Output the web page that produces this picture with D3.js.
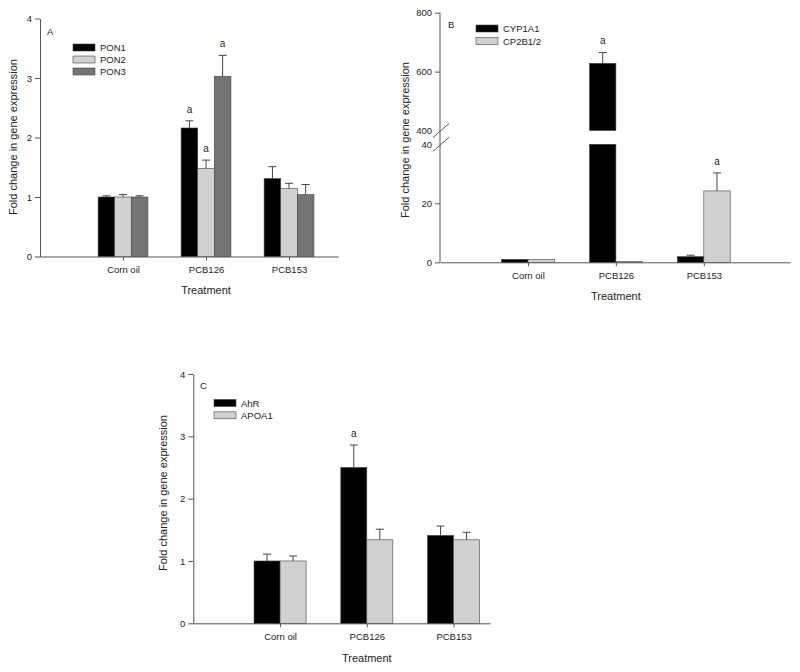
<!DOCTYPE html>
<html><head><meta charset="utf-8">
<script src="https://cdn.jsdelivr.net/npm/d3@7"></script>
<style>
body{margin:0;background:#fff;}
svg{display:block;font-family:"Liberation Sans",Arial,sans-serif;}
.axis path,.axis line{stroke:#555;stroke-width:1;}
.axis text{font-size:9.5px;fill:#222;font-family:"Liberation Sans",Arial,sans-serif;}
</style>
</head><body>
<svg id="chart" width="800" height="672"></svg>
<script>
const categories = ["Corn oil","PCB126","PCB153"];
const tickLabelsA = [0,1,2,3,4];
const tickLabelsC = [0,1,2,3,4];
const tickLowB = [0,20,40];
const tickHighB = [400,600,800];

// Panel A
const seriesA = ["PON1","PON2","PON3"];
const pon1 = [1.00, 2.16, 1.31];
const pon1Err = [1.02, 2.28, 1.51];
const pon2 = [1.00, 1.48, 1.14];
const pon2Err = [1.04, 1.62, 1.23];
const pon3 = [1.00, 3.03, 1.04];
const pon3Err = [1.02, 3.38, 1.21];
const sigA = [[false,true,false],[false,true,false],[false,true,false]];

// Panel B
const seriesB = ["CYP1A1","CP2B1/2"];
const cyp1a1 = [1.0, 628, 1.9];
const cyp1a1Err = [1.2, 665, 2.4];
const cp2b1 = [1.0, 0.3, 24.2];
const cp2b1Err = [1.2, 0.3, 30.3];
const sigB = [[false,true,false],[false,false,true]];

// Panel C
const seriesC = ["AhR","APOA1"];
const ahr = [1.0, 2.50, 1.41];
const ahrErr = [1.11, 2.86, 1.56];
const apoa1 = [1.0, 1.34, 1.34];
const apoa1Err = [1.08, 1.51, 1.46];
const sigC = [[false,true,false],[false,false,false]];

const colors3 = ["#000000","#d0d0d0","#747474"];
const colors2 = ["#000000","#d0d0d0"];

const svg = d3.select("#chart");

function drawPanel(cfg){
  const g = svg.append("g");
  const x = d3.scaleLinear().domain([0,cfg.xMax]).range([cfg.x0,cfg.x1]);
  const yFn = cfg.yFn;
  g.append("g").attr("class","axis").attr("transform",`translate(0,${cfg.yBase})`)
    .call(d3.axisBottom(x).tickValues([1,2,3]).tickFormat(i=>categories[i-1]).tickSize(4).tickPadding(6).tickSizeOuter(0));
  cfg.drawYAxis(g);
  const n = cfg.series.length;
  const bw = cfg.bw;
  cfg.values.forEach((vals,si)=>{
    vals.forEach((v,ci)=>{
      const xl = x(ci+1 - n*bw/2 + si*bw);
      const xr = x(ci+1 - n*bw/2 + (si+1)*bw);
      const xc = (xl+xr)/2;
      const segs = cfg.segments ? cfg.segments(v) : [[0,v,yFn]];
      segs.forEach(([lo,hi,ys])=>{
        g.append("rect").attr("x",xl).attr("width",xr-xl)
          .attr("y",ys(hi)).attr("height",Math.max(0.6,ys(lo)-ys(hi)))
          .attr("fill",cfg.colors[si]).attr("stroke","#444").attr("stroke-width",0.6);
      });
      const e = cfg.errs[si][ci];
      const yTop = yFn(v), yErr = yFn(e);
      if (yTop - yErr > 0.8){
        g.append("line").attr("x1",xc).attr("x2",xc).attr("y1",yTop).attr("y2",yErr).attr("stroke","#444").attr("stroke-width",1);
        g.append("line").attr("x1",xc-4).attr("x2",xc+4).attr("y1",yErr).attr("y2",yErr).attr("stroke","#444").attr("stroke-width",1);
      }
      if (cfg.sig[si][ci]){
        g.append("text").attr("x",xc).attr("y",yErr-8).attr("text-anchor","middle")
          .attr("font-size","10px").attr("fill","#222").text("a");
      }
    });
  });
  g.append("text").attr("x",cfg.letterX).attr("y",cfg.letterY).attr("font-size","9.5px").attr("fill","#222").text(cfg.letter);
  cfg.series.forEach((s,i)=>{
    const ly = cfg.legY + i*cfg.legStep;
    g.append("rect").attr("x",cfg.legX).attr("y",ly).attr("width",22).attr("height",7)
      .attr("fill",cfg.colors[i]).attr("stroke","#444").attr("stroke-width",0.6);
    g.append("text").attr("x",cfg.legX+27).attr("y",ly+7).attr("font-size","9.5px").attr("fill","#222").text(s);
  });
  g.append("text").attr("transform",`translate(${cfg.yLabX},${cfg.yLabY}) rotate(-90)`)
    .attr("text-anchor","middle").attr("font-size","11px").attr("fill","#222").text("Fold change in gene expression");
  g.append("text").attr("x",x(2)).attr("y",cfg.xLabY).attr("text-anchor","middle")
    .attr("font-size","11px").attr("fill","#222").text("Treatment");
}

// Panel A
const yA = d3.scaleLinear().domain([0,4]).range([256.5,18.5]);
drawPanel({
  x0:40, x1:338, xMax:3.59, yBase:256.5, yFn:yA, bw:0.2,
  series:seriesA, colors:colors3, values:[pon1,pon2,pon3], errs:[pon1Err,pon2Err,pon3Err], sig:sigA,
  drawYAxis:(g)=>{
    g.append("g").attr("class","axis").attr("transform","translate(40,0)")
      .call(d3.axisLeft(yA).tickValues(tickLabelsA).tickFormat(d3.format("d")).tickSize(5).tickPadding(3).tickSizeOuter(0));
  },
  letter:"A", letterX:47, letterY:35, legX:73, legY:44, legStep:12,
  yLabX:17, yLabY:137, xLabY:294
});

// Panel B (broken axis)
const yBLow = d3.scaleLinear().domain([0,40]).range([262.3,144.3]);
const yBHigh = d3.scaleLinear().domain([400,800]).range([130.5,12.7]);
const yB = v => v <= 40 ? yBLow(v) : (v >= 400 ? yBHigh(v) : 137.4);
drawPanel({
  x0:440, x1:790, xMax:3.98, yBase:262.3, yFn:yB, bw:0.3,
  series:seriesB, colors:colors2, values:[cyp1a1,cp2b1], errs:[cyp1a1Err,cp2b1Err], sig:sigB,
  segments:(v)=> v>400 ? [[0,40,yBLow],[400,v,yBHigh]] : [[0,v,yBLow]],
  drawYAxis:(g)=>{
    const low = g.append("g").attr("class","axis").attr("transform","translate(440,0)")
      .call(d3.axisLeft(yBLow).tickValues(tickLowB).tickSize(5).tickPadding(3).tickSizeOuter(0));
    const high = g.append("g").attr("class","axis").attr("transform","translate(440,0)")
      .call(d3.axisLeft(yBHigh).tickValues(tickHighB).tickSize(5).tickPadding(3).tickSizeOuter(0));
    low.selectAll(".domain").remove(); high.selectAll(".domain").remove();
    low.selectAll(".tick").filter(d=>d===40).select("line").remove();
    high.selectAll(".tick").filter(d=>d===400).select("line").remove();
    g.append("line").attr("x1",440).attr("x2",440).attr("y1",yBHigh(800)).attr("y2",yBLow(0)).attr("stroke","#555");
    [yBHigh(400), yBLow(40)].forEach(yy=>{
      g.append("line").attr("x1",433).attr("x2",449).attr("y1",yy+7).attr("y2",yy-7).attr("stroke","#555");
    });
  },
  letter:"B", letterX:448, letterY:28, legX:476, legY:25, legStep:12.5,
  yLabX:409, yLabY:140, xLabY:300
});

// Panel C
const yC = d3.scaleLinear().domain([0,4]).range([623.3,374]);
drawPanel({
  x0:193.3, x1:490, xMax:3.42, yBase:623.3, yFn:yC, bw:0.3,
  series:seriesC, colors:colors2, values:[ahr,apoa1], errs:[ahrErr,apoa1Err], sig:sigC,
  drawYAxis:(g)=>{
    g.append("g").attr("class","axis").attr("transform","translate(193.3,0)")
      .call(d3.axisLeft(yC).tickValues(tickLabelsC).tickFormat(d3.format("d")).tickSize(5).tickPadding(3).tickSizeOuter(0));
  },
  letter:"C", letterX:200, letterY:389, legX:214, legY:399.5, legStep:12.3,
  yLabX:167, yLabY:493, xLabY:662
});
</script>
</body></html>
